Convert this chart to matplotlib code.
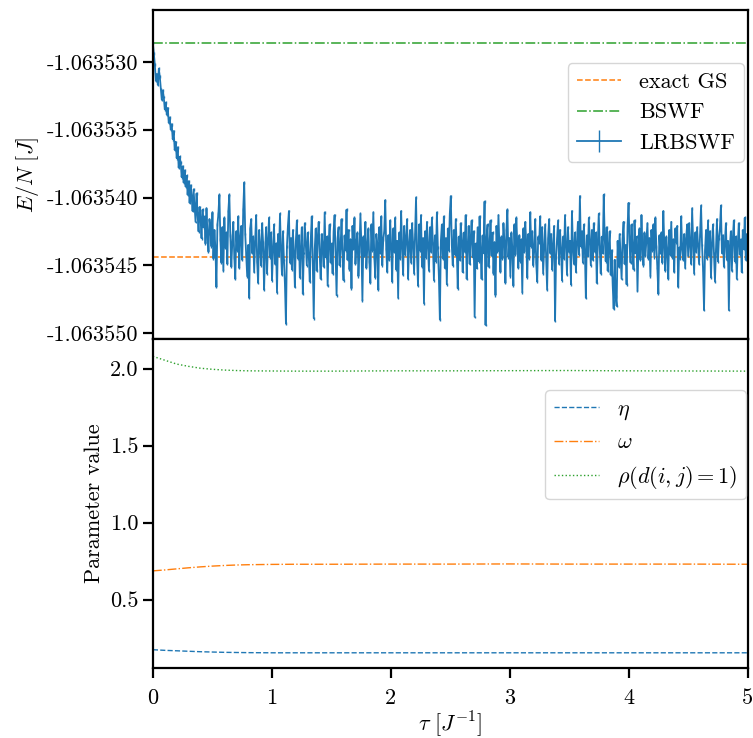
import numpy as np
import matplotlib
matplotlib.use("Agg")
import matplotlib.pyplot as plt
from matplotlib.ticker import FormatStrFormatter

plt.rcParams.update({
    "font.family": "serif",
    "font.serif": ["cmr10"],
    "mathtext.fontset": "cm",
    "axes.unicode_minus": False,
    "font.size": 16,
    "axes.linewidth": 1.6,
    "xtick.major.size": 7, "ytick.major.size": 7,
    "xtick.major.width": 1.6, "ytick.major.width": 1.6,
    "xtick.major.pad": 8,
    "legend.fontsize": 16,
})

# energies (J)
E_exact = -1.0635444
E_bswf = -1.0635286
E_offset = -1.06354  # LRBSWF values below are E/N - E_offset, in 1e-6 J
lr_micro = [
    11.4, 10.6, 9.8, 8.6, 9.1, 8.3, 9.5, 8.9, 8.0, 7.2, 7.9, 7.4, 6.5, 7.0, 6.1, 6.6, 5.5, 5.9, 5.0, 5.4,
    4.3, 4.9, 3.5, 4.1, 2.9, 3.7, 2.2, 3.0, 2.6, 1.5, 2.3, 1.1, 2.0, 0.8, 1.6, 0.2, 1.2, -0.4, 0.9, 0.1,
    -1.0, 0.6, -0.6, -1.8, 0.3, -1.2, -2.5, -0.7, -1.5, -3.0, -0.9, -2.2, -1.4, -3.4, -0.8, -2.7, -4.0, -1.6, -2.3, -3.6,
    -1.1, -4.5, -2.4, -3.8, -6.6, -2.0, -1.2, 0.2, -3.1, -4.8, -2.2, -5.4, -1.5, -3.7, -2.6, -4.9, -1.0, 0.2, -2.8, -5.1,
    -3.3, -1.8, -4.4, -6.0, -2.5, -3.9, -1.4, -5.2, -3.0, -2.1, -4.6, -0.9, 1.1, -2.7, -4.2, -5.8, -3.5, -7.4, -2.3, -1.6,
    -4.1, -2.9, -5.5, -3.2, -1.3, -4.7, -6.3, -2.4, -3.6, -5.0, -1.9, -3.3, -6.8, -4.0, -2.2, -5.6, -3.1, -1.5, -4.4, -2.6,
    -6.1, -3.8, -2.0, -4.9, -3.4, -7.0, -2.7, -4.3, -1.2, -3.9, -5.7, -2.5, -4.6, -6.4, -9.3, -3.6, -2.1, -1.0, -4.8, -3.0,
    -5.3, -2.4, -4.0, -6.6, -3.2, -1.7, -4.5, -2.8, -5.9, -3.7, -2.2, -7.1, -4.1, -1.9, -3.5, -5.0, -2.6, -4.3, -6.2, -3.1,
    -1.4, -4.7, -8.9, -3.8, -2.3, -5.4, -3.0, -1.8, -4.2, -6.0, -2.7, -3.6, -5.1, -1.1, -4.4, -2.9, -6.5, -3.3, -2.0, -4.8,
    -3.4, -5.6, -2.5, -1.3, -4.1, -7.2, -3.0, -2.2, -5.0, -3.7, -1.6, -4.5, -6.1, -2.8, -3.9, -0.9, -4.6, -2.4, -5.3, -3.1,
    -6.7, -2.1, -3.8, -1.5, -4.9, -3.3, -2.6, -5.8, -4.0, -1.2, -3.5, -7.6, -2.9, -4.3, -1.8, -5.2, -3.6, -2.3, -4.7, -6.3,
    -2.0, -3.9, -1.1, -4.4, -5.9, -2.7, -3.4, -6.8, -2.2, -4.1, -1.4, -5.0, -3.1, -2.5, -0.2, -3.8, -5.5, -2.8, -4.6, -1.7,
    -3.6, -6.2, -2.3, -4.0, -1.5, -5.3, -3.2, -7.4, -2.6, -4.5, -1.0, -3.7, -5.7, -2.1, -4.2, -3.0, -1.6, -6.0, -3.5, -2.4,
    -4.8, -1.9, -3.3, -5.6, -2.7, 0.0, -4.3, -6.5, -2.0, -3.9, -1.3, -5.1, -3.0, -7.8, -2.5, -4.4, -1.8, -3.6, -5.4, -2.2,
    -4.0, -1.5, -3.4, -6.1, -2.8, -4.7, -1.1, -3.7, -5.8, -9.0, -3.2, -2.0, -4.5, -1.4, -5.2, -3.0, -6.4, -2.3, -3.9, -1.2,
    0.1, -3.5, -5.0, -2.4, -4.2, -1.6, -3.8, -6.7, -2.9, -4.6, -1.9, -3.2, -5.5, -2.6, -4.0, -1.3, -6.0, -3.6, -2.1, -4.9,
    -3.1, -1.7, -4.4, -2.5, -8.8, -3.4, -5.2, -2.2, -4.7, -1.4, -3.9, -6.0, -2.8, -4.1, -0.3, -9.4, -3.0, -2.0, -5.1, -3.6,
    -1.7, -4.3, -2.6, -5.6, -3.3, -7.2, -2.1, -4.0, -1.3, -3.7, -5.5, -2.9, -4.5, -1.9, -3.2, -6.3, -2.4, -0.9, -4.4, -3.0,
    -5.8, -2.6, -3.8, -6.5, -2.0, -4.2, -1.5, -3.5, -5.2, -2.8, -4.7, -3.1, -7.0, -2.3, -4.0, -1.8, -3.4, -5.9, -2.7, -4.5,
    -1.1, -3.6, -2.5, -5.0, -3.9, -1.6, -4.8, -6.2, -2.9, -3.3, -1.4, -4.6, -2.2, -5.6, -3.7, -2.0, -4.3, -6.8, -3.0, -1.6,
    -4.1, -2.7, -5.3, -3.5, -2.1, -9.1, -4.4, -3.0, -1.7, -4.9, -2.4, -3.8, -6.1, -2.9, -4.5, -1.3, -3.4, -5.7, -2.2, -4.0,
    -3.2, -6.4, -1.0, -3.7, -4.9, -2.6, -5.5, -3.3, -1.8, -4.2, 0.1, -3.6, -2.5, -4.8, -2.0, -3.9, -7.4, -2.8, -4.3, -1.5,
    -3.3, -5.0, -2.4, -4.6, -1.9, -4.0, -2.6, -6.3, -3.4, -1.2, -3.8, -5.6, -2.9, -4.1, 0.2, -3.0, -4.7, -2.2, -5.4, -3.6,
    -2.5, -5.7, -3.9, -6.4, -8.2, -4.6, -7.3, -8.0, -3.2, -5.1, -2.7, -4.4, -6.0, -3.0, -1.8, -4.9, -3.5, -6.4, -2.1, -0.4,
    -3.3, -4.8, -2.0, -3.8, -5.3, -1.7, -4.1, -2.9, -6.9, -3.4, -2.3, -4.6, -1.3, -3.7, -5.0, -2.6, -4.3, -3.1, -1.9, -4.5,
    -3.0, -5.8, -2.4, -3.9, -2.0, -4.4, -1.5, -3.6, -5.2, -7.1, -2.8, -4.1, -2.6, -4.8, -1.0, -3.5, -5.4, -2.9, -3.9, -6.0,
    -2.4, -4.2, -1.8, -4.4, -3.1, -5.5, -2.3, -3.3, -2.1, -6.6, -3.7, -4.5, -1.4, -3.8, -4.6, -2.7, -5.2, -3.0, -2.0, -4.3,
    -1.9, -3.5, -4.9, -0.8, -3.2, -5.6, -2.6, -4.0, -2.2, -3.6, -4.9, -2.8, -0.6, -3.5, -5.3, -8.3, -3.9, -2.4, -4.5, -1.7,
    -4.3, -2.5, -5.9, -3.4, -2.0, -4.1, -6.2, -3.8, -1.6, -4.7, -3.0, -2.3, -0.6, -4.1, -2.8, -5.1, -3.3, -1.9, -4.6, -3.2,
    -8.3, -3.6, -2.5, -5.4, -3.0, -1.7, -4.7, -2.9, -6.0, -3.4, -1.9, -4.2, -3.1, -5.5, -2.4, -3.8, -1.5, -4.6, -2.7, -4.2,
]
lr_err = 1e-7

# parameters
tau_p = [0, 0.1, 0.2, 0.3, 0.4, 0.5, 0.6, 0.7, 0.8, 1.0, 1.2, 1.5,
         2.0, 2.5, 3.0, 3.5, 4.0, 4.5, 5.0]
eta = [0.175, 0.171, 0.168, 0.165, 0.162, 0.160, 0.158, 0.157, 0.156, 0.155,
       0.155, 0.155, 0.155, 0.155, 0.155, 0.155, 0.155, 0.155, 0.155]
omega = [0.687, 0.693, 0.700, 0.707, 0.713, 0.718, 0.722, 0.725, 0.727, 0.729,
         0.730, 0.730, 0.731, 0.731, 0.732, 0.731, 0.731, 0.731, 0.730]
rho = [2.080, 2.055, 2.030, 2.015, 2.003, 1.996, 1.991, 1.988, 1.986, 1.985,
       1.984, 1.984, 1.986, 1.986, 1.987, 1.988, 1.986, 1.985, 1.984]

tau = np.linspace(0, 5, len(lr_micro))
E_lr = E_offset + np.array(lr_micro) * 1e-6

fig, (ax1, ax2) = plt.subplots(2, 1, figsize=(7.53, 7.38), dpi=100, sharex=True)
fig.subplots_adjust(left=0.203, right=0.993, top=0.986, bottom=0.095, hspace=0)

ax1.axhline(E_exact, color="C1", ls="--", lw=1.1, label="exact GS")
ax1.axhline(E_bswf, color="C2", ls="-.", lw=1.1, label="BSWF")
ax1.errorbar(tau, E_lr, yerr=lr_err, color="C0", lw=1.3, elinewidth=1.0, label="LRBSWF")
ax1.set_ylim(-1.06355044, -1.0635262)
ax1.set_yticks([-1.06355, -1.063545, -1.06354, -1.063535, -1.06353])
ax1.yaxis.set_major_formatter(FormatStrFormatter("%.6f"))
ax1.set_ylabel(r"$E/N\ [J]$")
ax1.tick_params(axis="x", bottom=False, labelbottom=False)
ax1.legend(loc="upper right", bbox_to_anchor=(0.993, 0.839), borderaxespad=0)

ax2.plot(tau_p, eta, color="C0", ls="--", lw=1.0, label=r"$\eta$")
ax2.plot(tau_p, omega, color="C1", ls="-.", lw=1.0, label=r"$\omega$")
ax2.plot(tau_p, rho, color="C2", ls=":", lw=1.0, label=r"$\rho(d(i,j)=1)$")
ax2.set_ylim(0.057, 2.192)
ax2.set_yticks([0.5, 1.0, 1.5, 2.0])
ax2.yaxis.set_major_formatter(FormatStrFormatter("%.1f"))
ax2.set_ylabel("Parameter value")
ax2.set_xlim(0, 5)
ax2.set_xticks([0, 1, 2, 3, 4, 5])
ax2.set_xlabel(r"$\tau\ [J^{-1}]$", labelpad=1)
ax2.legend(loc="upper right", bbox_to_anchor=(0.997, 0.845), borderaxespad=0)

fig.savefig("out.png", dpi=100)
